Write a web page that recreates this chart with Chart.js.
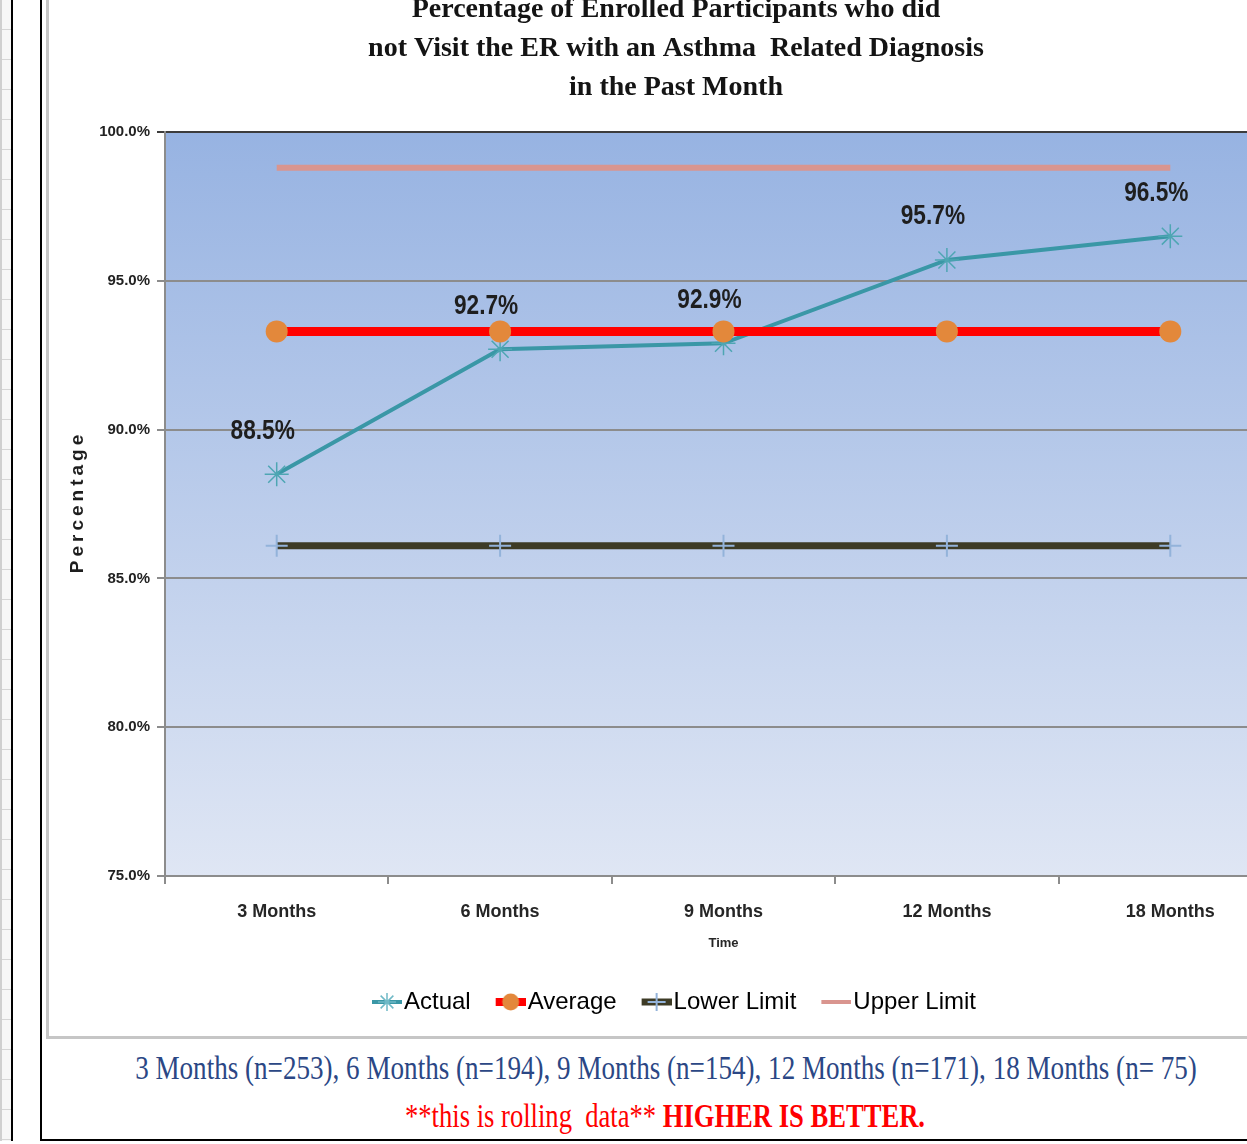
<!DOCTYPE html>
<html>
<head>
<meta charset="utf-8">
<title>ER visits – asthma</title>
<script src="https://cdn.jsdelivr.net/npm/chart.js@4.4.1/dist/chart.umd.min.js"></script>
<style>
  html, body { margin: 0; padding: 0; background: #fff; width: 1247px; height: 1144px; overflow: hidden; position: relative; }
  .strip { position: absolute; left: 0; top: 0; width: 11px; height: 1141px; background: repeating-linear-gradient(to bottom, #f7f7f7 0, #f7f7f7 29px, #d6d6d6 29px, #d6d6d6 30px); border-left: 2px solid #d0d0d0; box-sizing: border-box; }
  .vline { position: absolute; top: 0; width: 2px; height: 1141px; background: #000; }
  .hline { position: absolute; left: 40px; right: 0; top: 1139px; height: 2px; background: #000; }
  .frame-v { position: absolute; left: 46px; top: 0; width: 3px; height: 1039px; background: #c6c6c6; }
  .frame-h { position: absolute; left: 46px; right: 0; top: 1036px; height: 3px; background: #c6c6c6; }
  #wrap { position: absolute; left: 48px; top: -12px; width: 1256px; height: 1050px; }
  .note { position: absolute; white-space: pre; font-family: "Liberation Serif", "Times New Roman", serif; line-height: 1; }
  #sizes { left: 666px; top: 1068px; font-size: 34px; color: #2b4785; transform: translate(-50%, -50%) scaleX(0.797); }
  #rolling { left: 665px; top: 1116px; font-size: 34px; color: #ff0000; transform: translate(-50%, -50%) scaleX(0.782); }
  #rolling b { font-weight: bold; }
</style>
</head>
<body>
<div class="strip"></div>
<div class="vline" style="left:11px"></div>
<div class="vline" style="left:40px"></div>
<div class="hline"></div>
<div class="frame-v"></div>
<div class="frame-h"></div>
<div id="wrap"><canvas id="chart" width="1256" height="1050"></canvas></div>
<div id="sizes" class="note"></div>
<div id="rolling" class="note">**this is rolling  data** <b>HIGHER IS BETTER.</b></div>

<script>
// ---- data ----
const categories = ['3 Months', '6 Months', '9 Months', '12 Months', '18 Months'];
const actual = [88.5, 92.7, 92.9, 95.7, 96.5];
const average = [93.3, 93.3, 93.3, 93.3, 93.3];
const lowerLimit = [86.1, 86.1, 86.1, 86.1, 86.1];
const upperLimit = [98.8, 98.8, 98.8, 98.8, 98.8];
const yTicks = [75, 80, 85, 90, 95, 100];
const sampleSizes = [253, 194, 154, 171, 75];
const titleLines = [
  'Percentage of Enrolled Participants who did',
  'not Visit the ER with an Asthma  Related Diagnosis',
  'in the Past Month'
];

// ---- colours ----
const TEAL = '#3a97a6';
const RED = '#ff0000';
const ORANGE = '#e3883b';
const OLIVE = '#3d3b26';
const PLUS_BLUE = '#93b3da';
const SALMON = '#d9958f';

document.getElementById('sizes').textContent = categories
  .map((c, i) => `${c} (n=${String(sampleSizes[i]).padStart(3, ' ')})`)
  .join(', ');

// legend symbols: a short line with the series marker on it
function legendSymbol(draw) {
  const c = document.createElement('canvas');
  c.width = 36; c.height = 24;
  const g = c.getContext('2d');
  draw(g, 6, 36, 21, 12);
  return c;
}
function strokeLine(g, x0, x1, y, color, w) {
  g.strokeStyle = color; g.lineWidth = w; g.beginPath();
  g.moveTo(x0, y); g.lineTo(x1, y); g.stroke();
}
const symActual = legendSymbol((g, x0, x1, cx, cy) => {
  strokeLine(g, x0, x1, cy, TEAL, 4);
  g.strokeStyle = '#6fb9c6'; g.lineWidth = 1.5; g.beginPath();
  for (let k = 0; k < 4; k++) {
    const a = k * Math.PI / 4;
    g.moveTo(cx - 9 * Math.cos(a), cy - 9 * Math.sin(a));
    g.lineTo(cx + 9 * Math.cos(a), cy + 9 * Math.sin(a));
  }
  g.stroke();
});
const symAverage = legendSymbol((g, x0, x1, cx, cy) => {
  strokeLine(g, x0, x1, cy, RED, 8);
  g.fillStyle = ORANGE; g.beginPath(); g.arc(cx, cy, 8.5, 0, Math.PI * 2); g.fill();
});
const symLower = legendSymbol((g, x0, x1, cx, cy) => {
  strokeLine(g, x0, x1, cy, OLIVE, 7);
  g.strokeStyle = PLUS_BLUE; g.lineWidth = 2; g.beginPath();
  g.moveTo(cx - 9, cy); g.lineTo(cx + 9, cy); g.moveTo(cx, cy - 9); g.lineTo(cx, cy + 9); g.stroke();
});
const symUpper = legendSymbol((g, x0, x1, cx, cy) => {
  strokeLine(g, x0, x1, cy, SALMON, 4);
});
const legendSymbols = [symActual, symAverage, symLower, symUpper];

// plot-area gradient fill
const plotBackground = {
  id: 'plotBackground',
  beforeDraw(chart) {
    const { ctx, chartArea: a } = chart;
    const grad = ctx.createLinearGradient(0, a.top, 0, a.bottom);
    grad.addColorStop(0, '#97b3e2');
    grad.addColorStop(1, '#dfe6f4');
    ctx.save();
    ctx.fillStyle = grad;
    ctx.fillRect(a.left, a.top, a.right - a.left, a.bottom - a.top);
    ctx.restore();
  }
};

// value labels above the Actual points (condensed bold)
const valueLabels = {
  id: 'valueLabels',
  afterDatasetsDraw(chart) {
    const { ctx } = chart;
    const meta = chart.getDatasetMeta(0);
    if (meta.hidden) return;
    meta.data.forEach((pt, i) => {
      ctx.save();
      ctx.translate(pt.x - 14, pt.y - 43);
      ctx.scale(0.84, 1);
      ctx.font = 'bold 27px "Liberation Sans", Arial, sans-serif';
      ctx.fillStyle = '#1e1e1e';
      ctx.textAlign = 'center';
      ctx.textBaseline = 'middle';
      ctx.fillText(chart.data.datasets[0].data[i].toFixed(1) + '%', 0, 0);
      ctx.restore();
    });
  }
};

// vertical axis caption
const yCaption = {
  id: 'yCaption',
  afterDraw(chart) {
    const { ctx, chartArea: a } = chart;
    ctx.save();
    ctx.translate(30, (a.top + a.bottom) / 2);
    ctx.rotate(-Math.PI / 2);
    ctx.font = 'bold 19px "Liberation Sans", Arial, sans-serif';
    if ('letterSpacing' in ctx) ctx.letterSpacing = '4px';
    ctx.fillStyle = '#1e1e1e';
    ctx.textAlign = 'center';
    ctx.textBaseline = 'middle';
    ctx.fillText('Percentage', 2, 0);
    ctx.restore();
  }
};

new Chart(document.getElementById('chart'), {
  type: 'line',
  data: {
    labels: categories,
    datasets: [
      {
        label: 'Actual', data: actual, order: 4,
        borderColor: TEAL, borderWidth: 4,
        pointStyle: 'star', pointRadius: 12, pointBorderColor: '#4ea6b3', pointBorderWidth: 1.5,
        pointBackgroundColor: TEAL
      },
      {
        label: 'Average', data: average, order: 3,
        borderColor: RED, borderWidth: 9,
        pointStyle: 'circle', pointRadius: 11, pointBackgroundColor: ORANGE,
        pointBorderColor: ORANGE, pointBorderWidth: 0
      },
      {
        label: 'Lower Limit', data: lowerLimit, order: 2,
        borderColor: OLIVE, borderWidth: 7,
        pointStyle: 'cross', pointRadius: 11, pointBorderColor: PLUS_BLUE, pointBorderWidth: 2
      },
      {
        label: 'Upper Limit', data: upperLimit, order: 1,
        borderColor: SALMON, borderWidth: 6, pointRadius: 0
      }
    ]
  },
  options: {
    responsive: false,
    animation: false,
    layout: { padding: { top: 0, right: 22, bottom: 14, left: 22 } },
    plugins: {
      tooltip: { enabled: false },
      title: {
        display: true,
        text: titleLines,
        color: '#141414',
        font: { family: '"Liberation Serif", "Times New Roman", serif', size: 28, weight: 'bold', lineHeight: '39px' },
        padding: { top: 2, bottom: 25 }
      },
      legend: {
        position: 'bottom',
        labels: {
          usePointStyle: true,
          pointStyleWidth: 16,
          padding: 29,
          color: '#262626',
          font: { family: '"Liberation Sans", Arial, sans-serif', size: 24 },
          generateLabels(chart) {
            return chart.data.datasets.map((ds, i) => ({
              text: ds.label,
              pointStyle: legendSymbols[i],
              fillStyle: 'transparent',
              strokeStyle: 'transparent',
              lineWidth: 0,
              hidden: !chart.isDatasetVisible(i),
              datasetIndex: i
            }));
          }
        }
      }
    },
    scales: {
      x: {
        offset: true,
        afterFit(scale) { scale.height = 85; },
        grid: { offset: true, drawOnChartArea: false, drawTicks: true, tickLength: 8, color: '#8c8c8c', lineWidth: 2 },
        border: { color: '#8c8c8c', width: 2 },
        ticks: {
          padding: 17,
          color: '#262626',
          font: { family: '"Liberation Sans", Arial, sans-serif', size: 18, weight: 'bold' }
        },
        title: {
          display: true,
          text: 'Time',
          color: '#262626',
          font: { family: '"Liberation Sans", Arial, sans-serif', size: 13, weight: 'bold' },
          padding: { top: 0, bottom: 10 }
        }
      },
      y: {
        min: 75, max: 100,
        afterFit(scale) { scale.width = 95; },
        afterBuildTicks(scale) { scale.ticks = yTicks.map(v => ({ value: v })); },
        grid: {
          color: ctx => (ctx.tick && ctx.tick.value === 100 ? '#3c3c3c' : '#8c8c8c'),
          lineWidth: 2, tickLength: 8
        },
        border: { color: '#8c8c8c', width: 2 },
        ticks: {
          padding: 7,
          color: '#222',
          font: { family: '"Liberation Sans", Arial, sans-serif', size: 15, weight: 'bold' },
          callback: v => Number(v).toFixed(1) + '%'
        }
      }
    }
  },
  plugins: [plotBackground, valueLabels, yCaption]
});
</script>
</body>
</html>
